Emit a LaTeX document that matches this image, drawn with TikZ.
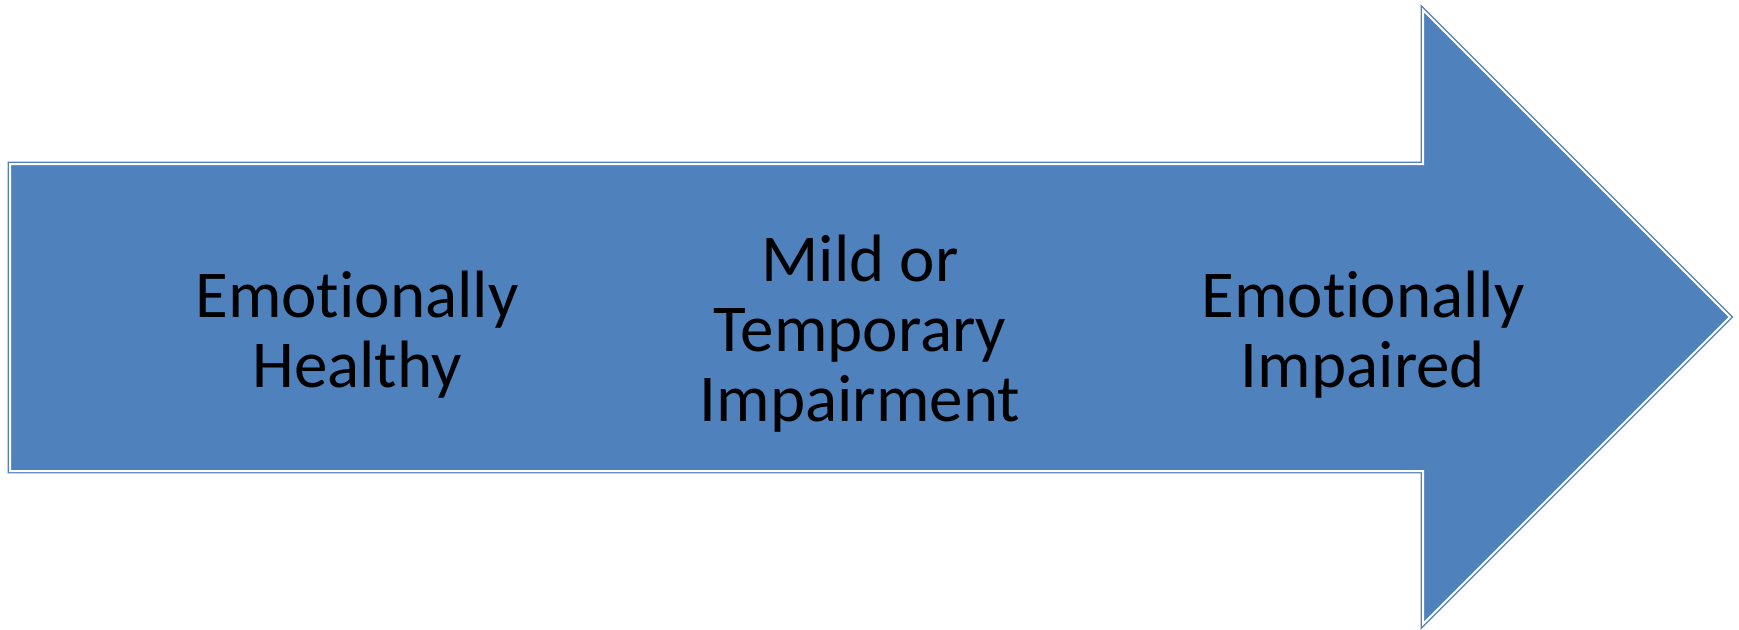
\documentclass[tikz,border=0pt]{standalone}
\usepackage{fontspec}
\setmainfont[Ligatures=NoCommon]{Carlito}
\usepackage{tikz}
\definecolor{arrowblue}{HTML}{4F81BD}

\begin{document}
\begin{tikzpicture}[x=1pt, y=-1pt,
  bigarrow/.style={fill=arrowblue, draw=arrowblue, line width=1.3pt, double=white, double distance=2pt},
  steplabel/.style={align=center, inner sep=0pt, font=\fontsize{67}{70}\selectfont}]
\useasboundingbox (0,0) rectangle (1739,629);
\draw[bigarrow] (10,164) -- (1423,164) -- (1423,10) -- (1730,317) -- (1423,624) -- (1423,471) -- (10,471) -- cycle;
\node[steplabel] (healthy) at (357,335) {Emotionally\\Healthy};
\node[steplabel] (mild) at (860,334) {Mild or\\Temporary\\Impairment};
\node[steplabel] (impaired) at (1363,335) {Emotionally\\Impaired};
\end{tikzpicture}
\end{document}
